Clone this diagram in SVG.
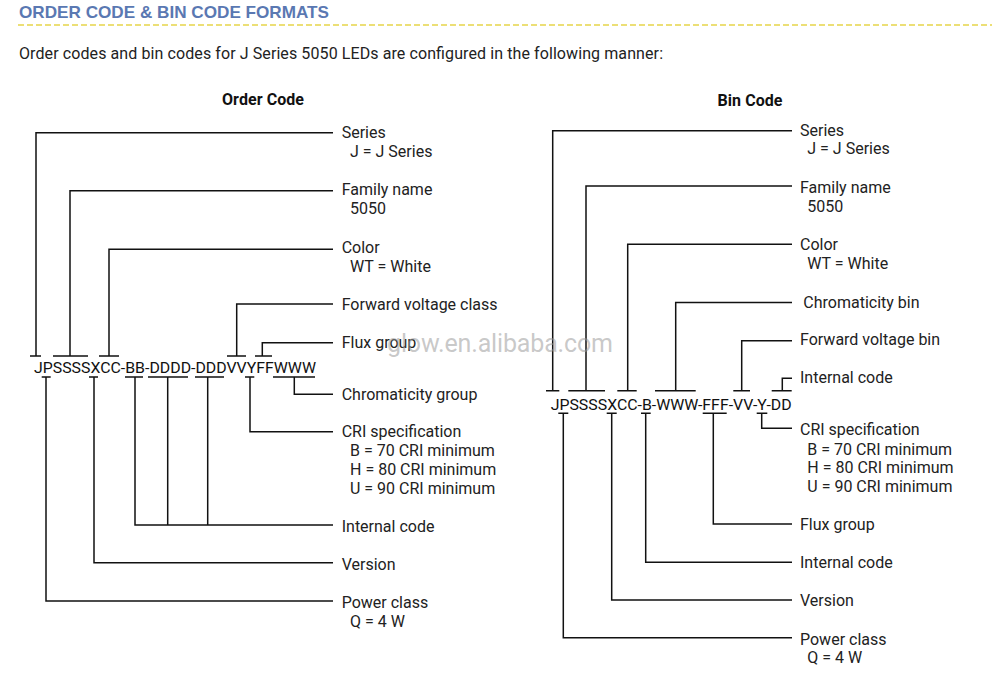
<svg xmlns="http://www.w3.org/2000/svg" width="1000" height="687" viewBox="0 0 1000 687">
<style>
text{font-family:Roboto,"Liberation Sans",Arial,sans-serif;fill:#222;}
.title{font-family:"Liberation Sans",Arial,sans-serif;font-size:17px;font-weight:bold;fill:#5a78b2;}
.sub{font-size:16px;}
.head{font-size:16px;font-weight:bold;fill:#111;}
.lbl{font-size:16px;}
.code{font-size:15px;fill:#111;}
.wm{font-size:25px;fill:#9a9a9a;fill-opacity:0.55;}
.ln{fill:none;stroke:#111;stroke-width:1.5;}
</style>
<rect width="1000" height="687" fill="#fff"/>
<g id="header">
<text class="title" x="19" y="17.5" textLength="310" lengthAdjust="spacingAndGlyphs">ORDER CODE &amp; BIN CODE FORMATS</text>
<line x1="18" y1="25" x2="992" y2="25" stroke="#e6d54a" stroke-width="1.3" stroke-dasharray="6,3"/>
<text class="sub" x="19" y="58.5" textLength="644">Order codes and bin codes for J Series 5050 LEDs are configured in the following manner:</text>
<text class="head" x="263" y="105" text-anchor="middle" textLength="82">Order Code</text>
<text class="head" x="750" y="105.5" text-anchor="middle" textLength="65">Bin Code</text>
</g>
<g id="connectors" class="ln">
<path d="M30,356H41M36,356V132.7H333"/>
<path d="M53,356H88M70,356V190.7H333"/>
<path d="M99,356H119M109,356V249.3H333"/>
<path d="M227,356H246M236.7,356V304H333"/>
<path d="M255,356H272M262.3,356V342.7H333"/>
<path d="M273,377H315M294.3,377V394.3H333"/>
<path d="M245,377H254.3M250,377V431.7H333"/>
<path d="M125,377H143M148,377H188M195,377H224M135,377V525H333M167.7,377V525M207.7,377V525"/>
<path d="M89,377H98M94,377V562.7H333"/>
<path d="M41.7,377H50.7M46,377V601H333"/>
<path d="M546,390.7H559.3M552.7,390.7V130.7H792"/>
<path d="M568.3,390.7H605M586,390.7V186H792"/>
<path d="M617.3,390.7H636.7M627.7,390.7V244.3H792"/>
<path d="M655,390.7H695.7M675.7,390.7V302.5H792"/>
<path d="M733.3,390.7H750M741.7,390.7V340.7H792"/>
<path d="M771.7,390.7H791.7M782.3,390.7V378.3H792"/>
<path d="M756.7,413.3H767.3M761.7,413.3V428.3H792"/>
<path d="M702.7,413.3H726.7M713.3,413.3V524H792"/>
<path d="M641,413.3H650.7M645.7,413.3V562.3H792"/>
<path d="M606.7,413.3H616.7M611.7,413.3V600H792"/>
<path d="M558.3,413.3H568.3M563.3,413.3V637.7H792"/>
</g>
<g id="order-code">
<text class="code" x="34" y="373.3" textLength="282" lengthAdjust="spacingAndGlyphs">JPSSSSXCC-BB-DDDD-DDDVVYFFWWW</text>
</g>
<g id="bin-code">
<text class="code" x="550.7" y="410" textLength="241" lengthAdjust="spacingAndGlyphs">JPSSSSXCC-B-WWW-FFF-VV-Y-DD</text>
</g>
<g id="o-series"><text class="lbl" x="341.7" y="138.3">Series</text><text class="lbl" x="350" y="156.7">J = J Series</text></g>
<g id="o-family"><text class="lbl" x="341.7" y="195">Family name</text><text class="lbl" x="350" y="214">5050</text></g>
<g id="o-color"><text class="lbl" x="341.7" y="253.3">Color</text><text class="lbl" x="350" y="271.7">WT = White</text></g>
<g id="o-fvclass"><text class="lbl" x="341.7" y="310">Forward voltage class</text></g>
<g id="o-flux"><text class="lbl" x="341.7" y="347.7">Flux group</text></g>
<g id="o-chroma"><text class="lbl" x="341.7" y="400">Chromaticity group</text></g>
<g id="o-cri"><text class="lbl" x="341.7" y="436.7">CRI specification</text><text class="lbl" x="350" y="456">B = 70 CRI minimum</text><text class="lbl" x="350" y="475">H = 80 CRI minimum</text><text class="lbl" x="350" y="494">U = 90 CRI minimum</text></g>
<g id="o-internal"><text class="lbl" x="341.7" y="531.7">Internal code</text></g>
<g id="o-version"><text class="lbl" x="341.7" y="570">Version</text></g>
<g id="o-power"><text class="lbl" x="341.7" y="608.3">Power class</text><text class="lbl" x="350" y="626.7">Q = 4 W</text></g>
<g id="b-series"><text class="lbl" x="800" y="135.7">Series</text><text class="lbl" x="807.3" y="154">J = J Series</text></g>
<g id="b-family"><text class="lbl" x="800" y="193.3">Family name</text><text class="lbl" x="807.3" y="212.3">5050</text></g>
<g id="b-color"><text class="lbl" x="800" y="250">Color</text><text class="lbl" x="807.3" y="269">WT = White</text></g>
<g id="b-chroma"><text class="lbl" x="803.3" y="307.7">Chromaticity bin</text></g>
<g id="b-fvbin"><text class="lbl" x="800" y="345">Forward voltage bin</text></g>
<g id="b-internal-top"><text class="lbl" x="800" y="383.3">Internal code</text></g>
<g id="b-cri"><text class="lbl" x="800" y="435">CRI specification</text><text class="lbl" x="807.3" y="455">B = 70 CRI minimum</text><text class="lbl" x="807.3" y="473.3">H = 80 CRI minimum</text><text class="lbl" x="807.3" y="492.3">U = 90 CRI minimum</text></g>
<g id="b-flux"><text class="lbl" x="800" y="530">Flux group</text></g>
<g id="b-internal"><text class="lbl" x="800" y="568.3">Internal code</text></g>
<g id="b-version"><text class="lbl" x="800" y="606">Version</text></g>
<g id="b-power"><text class="lbl" x="800" y="645">Power class</text><text class="lbl" x="807.3" y="663.3">Q = 4 W</text></g>
<g id="watermark"><text class="wm" x="387" y="352" textLength="226">glow.en.alibaba.com</text></g>
</svg>
